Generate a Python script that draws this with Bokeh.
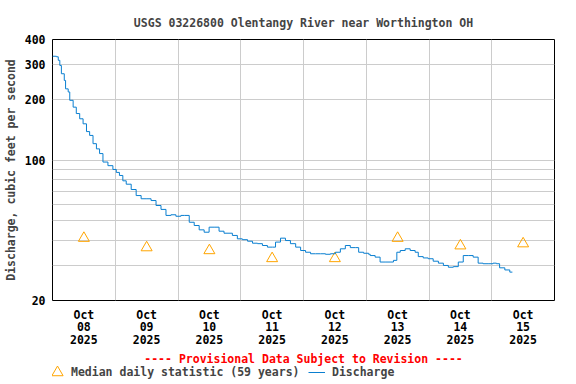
from bokeh.plotting import figure
from bokeh.layouts import column
from bokeh.models import Range1d, FixedTicker, Label, Legend, LegendItem
from bokeh.embed import file_html
from bokeh.resources import INLINE

# Discharge (cfs), hours since 2025-10-08 00:00
hours = [0, 1.5, 2.2, 2.8, 3.4, 4.5, 5.0, 6.0, 6.6, 7.9, 9.1, 10.4, 11.7, 13.0, 14.2,
         15.5, 16.8, 18.0, 19.3, 21.2, 23.1, 24.4, 25.6, 26.9, 28.2, 30.1, 32.0, 33.9,
         35.8, 37.7, 39.6, 41.5, 43.4, 45.3, 47.2, 49.1, 50.4, 52.3, 54.2, 56.1, 58.0,
         59.9, 61.8, 63.7, 65.6, 67.5, 68.8, 70.7, 72.6, 74.6, 76.5, 78.4, 80.3, 82.2,
         84.1, 85.3, 87.2, 89.1, 91.0, 93.0, 94.9, 96.8, 98.7, 100.6, 102.5, 104.4,
         106.3, 108.2, 110.1, 112.0, 113.9, 115.8, 117.1, 119.0, 120.9, 121.5, 123.4,
         125.3, 127.2, 129.1, 130.4, 131.7, 133.0, 134.9, 136.8, 138.7, 139.9, 141.8,
         143.7, 145.6, 147.6, 149.5, 151.4, 153.3, 155.2, 157.1, 159.0, 160.9, 162.8,
         164.7, 166.6, 168.5, 169.8, 171.0, 173.0, 174.9, 175.9]
discharge = [330, 328, 315, 297, 270, 250, 227, 219, 199, 184, 171, 161, 152, 139, 133,
             121, 114, 108, 98, 94, 90, 87, 84, 79, 76, 71.5, 66.7, 64.3,
             64.3, 63, 59.5, 56.9, 53.1, 53.5, 52.6, 53.1, 53.1, 49.1, 47.3, 45.0, 43.8,
             46.4, 46.4, 44.3, 43.3, 43.3, 42.2, 40.6, 40.2, 39.5, 38.6, 38.4, 37.6, 36.9,
             36.9, 39.1, 40.9, 39.8, 38.4, 36.9, 35.5, 34.8, 34.2, 34.2, 34.2, 34.0,
             34.2, 34.8, 36.2, 37.6, 36.7, 36.7, 34.8, 34.4, 34.0, 33.5, 32.9,
             31.1, 31.1, 31.1, 31.7, 34.8, 35.5, 36.2, 35.5, 34.8, 33.1, 32.6,
             32.3, 31.4, 30.7, 29.9, 29.3, 29.5, 31.1, 33.5, 33.5, 32.9, 30.7,
             30.5, 30.5, 30.7, 30.5, 29.1, 28.4, 27.7, 27.7]

# Median daily statistic (59 years), at noon of each day
median_hours = [12, 36, 60, 84, 108, 132, 156, 180]
median_values = [40.9, 36.7, 35.5, 32.4, 32.4, 40.9, 37.5, 38.4]

day_labels = ["Oct\n08\n2025", "Oct\n09\n2025", "Oct\n10\n2025", "Oct\n11\n2025",
              "Oct\n12\n2025", "Oct\n13\n2025", "Oct\n14\n2025", "Oct\n15\n2025"]
y_ticks = [20, 30, 40, 50, 60, 70, 80, 90, 100, 200, 300, 400]
y_labelled = [20, 100, 200, 300, 400]

FONT = "DejaVu Sans Mono"
FS = "11.5px"
MED_COLOR = "orange"
DIS_COLOR = "#0a7fd0"

# main chart: frame at x 51..554, y 39..300
p = figure(width=576, height=350, output_backend="svg", toolbar_location=None,
           x_range=Range1d(0, 192), y_range=Range1d(20, 400), y_axis_type="log",
           min_border_left=51, min_border_right=22, min_border_top=39, min_border_bottom=50)

p.title.text = "USGS 03226800 Olentangy River near Worthington OH"
p.title.align = "center"
p.title.text_font = FONT
p.title.text_font_size = FS
p.title.text_font_style = "bold"
p.title.standoff = 19

p.outline_line_color = "black"
p.outline_line_width = 1

p.xaxis.ticker = FixedTicker(ticks=median_hours)
p.xaxis.major_label_overrides = {h: lab for h, lab in zip(median_hours, day_labels)}
p.yaxis.ticker = FixedTicker(ticks=y_ticks)
p.yaxis.major_label_overrides = {t: (str(t) if t in y_labelled else "") for t in y_ticks}
for ax in (p.xaxis, p.yaxis):
    ax.major_label_text_font = FONT
    ax.major_label_text_font_size = FS
    ax.major_label_text_font_style = "bold"
    ax.major_label_text_color = "black"
    ax.major_tick_line_color = None
    ax.minor_tick_line_color = None
    ax.major_tick_out = 0
    ax.major_tick_in = 0
    ax.minor_tick_out = 0
    ax.minor_tick_in = 0
    ax.axis_line_color = None
p.xaxis.major_label_text_line_height = 0.9
p.xaxis.major_label_standoff = 7
p.yaxis.major_label_standoff = 7
p.yaxis.axis_label = "Discharge, cubic feet per second"
p.yaxis.axis_label_text_font = FONT
p.yaxis.axis_label_text_font_size = FS
p.yaxis.axis_label_text_font_style = "bold"
p.yaxis.axis_label_standoff = 4

p.xgrid.ticker = FixedTicker(ticks=[24, 48, 72, 96, 120, 144, 168])
p.xgrid.grid_line_color = "#cccccc"
p.ygrid.grid_line_color = "#cccccc"

med = p.scatter(median_hours, median_values, marker="triangle", size=11,
                fill_color=None, line_color=MED_COLOR, line_width=1)
dis = p.step(hours, discharge, mode="after", line_color=DIS_COLOR, line_width=1)

# footer: provisional note and legend (its frame is aligned with the chart frame, x 51..554)
f = figure(width=576, height=34, output_backend="svg", toolbar_location=None,
           x_axis_location=None, y_axis_location=None, min_border=0,
           x_range=Range1d(0, 1), y_range=Range1d(0, 1), outline_line_color=None)
f.grid.visible = False
f.add_layout(Label(x=251, y=26, x_units="screen", y_units="screen",
                   text="---- Provisional Data Subject to Revision ----",
                   text_align="center", text_baseline="middle", text_color="red",
                   text_font=FONT, text_font_size=FS, text_font_style="bold"))
med_key = f.scatter([-10], [-10], marker="triangle", fill_color=None,
                    line_color=MED_COLOR, line_width=1)
dis_key = f.line([-10, -9], [-10, -10], line_color=DIS_COLOR, line_width=1)
leg_common = dict(orientation="horizontal", label_text_font=FONT, label_text_font_size=FS,
                  label_text_font_style="bold", border_line_color=None,
                  background_fill_alpha=0, margin=0, padding=0, spacing=0)
f.add_layout(Legend(items=[LegendItem(label="Median daily statistic (59 years)", renderers=[med_key])],
                    location=(-9, -2), glyph_width=28, glyph_height=28, label_standoff=-3,
                    label_height=14, **leg_common))
f.add_layout(Legend(items=[LegendItem(label="Discharge", renderers=[dis_key])],
                    location=(256, 5), glyph_width=17, glyph_height=14, label_standoff=7,
                    label_height=14, **leg_common))

layout = column(p, f, spacing=0)
open("out.html", "w").write(file_html(layout, INLINE))
